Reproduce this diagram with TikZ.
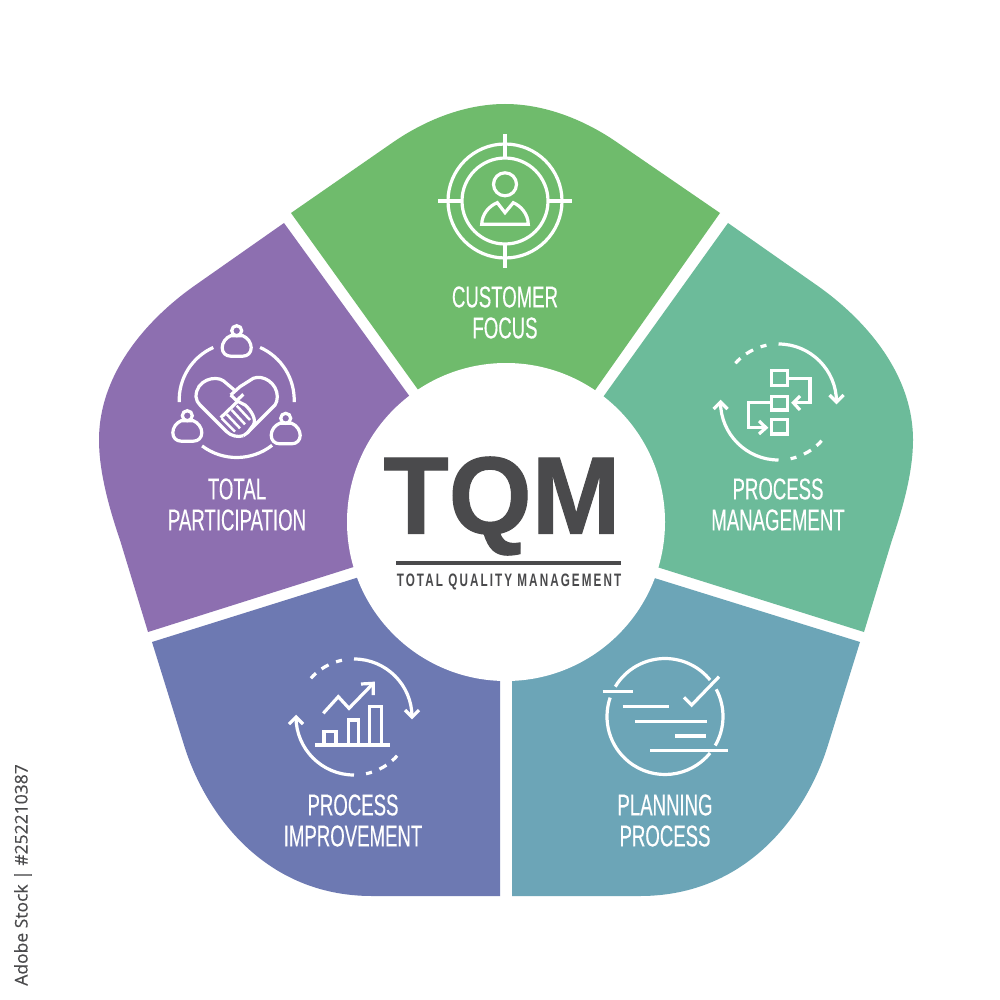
\documentclass[tikz,border=0pt]{standalone}
\usepackage{fontspec}
\setmainfont{Liberation Sans}
\newfontfamily\labfont[FakeStretch=0.62,FakeBold=0.3]{Liberation Sans}
\newfontfamily\subfont[FakeStretch=0.65,LetterSpace=11.5]{Liberation Sans Bold}
\newfontfamily\tqmfont[FakeStretch=0.97,FakeBold=1]{Liberation Sans Bold}
\newfontfamily\idfont[FakeBold=0.3]{Open Sans}
\definecolor{cgreen}{HTML}{6FBB6C}
\definecolor{cteal}{HTML}{6CBB9A}
\definecolor{cblue}{HTML}{6CA5B7}
\definecolor{cindigo}{HTML}{6D79B2}
\definecolor{cpurple}{HTML}{8D6FB0}
\definecolor{cdark}{HTML}{4A4A4C}
\tikzset{
 ico/.style={draw=white,line width=3.2pt,fill=none},
 lab/.style={text=white,align=center,font=\labfont\fontsize{30}{31}\selectfont,inner sep=0pt},
}
\newcommand{\cyc}[2]{%
 \begin{scope}[shift={(#1,#2)}]
 \draw[ico] (-90:58) arc[start angle=-90,end angle=0,radius=58];
 \draw[ico] (51,-7) -- (58,0) -- (65,-7);
 \draw[ico] (-102:58) arc[start angle=-102,end angle=-108,radius=58];
 \draw[ico] (-116:58) arc[start angle=-116,end angle=-124,radius=58];
 \draw[ico] (-131:58) arc[start angle=-131,end angle=-138,radius=58];
 \draw[ico] (90:58) arc[start angle=90,end angle=180,radius=58];
 \draw[ico] (-65,7) -- (-58,0) -- (-51,7);
 \draw[ico] (78:58) arc[start angle=78,end angle=72,radius=58];
 \draw[ico] (64:58) arc[start angle=64,end angle=56,radius=58];
 \draw[ico] (49:58) arc[start angle=49,end angle=42,radius=58];
 \end{scope}}
\newcommand{\person}[2]{%
 \begin{scope}[shift={(#1,#2)}]
 \draw[ico] (0,0) circle[radius=5];
 \draw[ico] (-6,5) .. controls (-11,7) and (-14.5,12) .. (-14.5,17) .. controls (-14.5,22) and (-11,25.5) .. (-6,25.5) -- (6,25.5) .. controls (11,25.5) and (14.5,22) .. (14.5,17) .. controls (14.5,12) and (11,7) .. (6,5) -- cycle;
 \end{scope}}
\begin{document}
\begin{tikzpicture}[x=1pt,y=1pt,yscale=-1]
\useasboundingbox (0,0) rectangle (1000,1000);
\fill[white] (0,0) rectangle (1000,1000);
% segments
\fill[cgreen] (291,213) -- (392,143) .. controls (425,120) and (465,104) .. (505,104) .. controls (545,104) and (585,120) .. (618,143) -- (720,213) -- (543,464) -- (470,462) -- cycle;
\fill[cteal] (728,223) -- (815,284) .. controls (860,315) and (913,370) .. (913,440) .. controls (913,470) and (904,505) .. (892,540) -- (864,632) -- (590,546) -- (555,464) -- cycle;
\fill[cblue] (860,642) -- (828,745) .. controls (808,810) and (750,896) .. (640,896) -- (512,896) -- (512,600) -- (590,558) -- cycle;
\fill[cindigo] (152,642) -- (184,745) .. controls (204,810) and (262,896) .. (372,896) -- (500,896) -- (500,600) -- (420,558) -- cycle;
\fill[cpurple] (284,223) -- (197,284) .. controls (152,315) and (99,370) .. (99,440) .. controls (99,470) and (108,505) .. (120,540) -- (148,632) -- (420,546) -- (455,459) -- cycle;
\fill[white] (506,522) circle[radius=159];
% customer icon
\draw[ico] (505,201) circle[radius=57];
\draw[ico] (505,201) circle[radius=43];
\draw[ico] (438,201) -- (462,201) (548,201) -- (572,201) (505,134) -- (505,158) (505,244) -- (505,268);
\draw[ico] (505,184.3) circle[radius=11.5];
\draw[ico,line join=miter] (481.7,224.3) .. controls (482,214) and (489,206) .. (497.3,202.7) -- (505,212.7) -- (513.3,202.7) .. controls (521,206) and (528,214) .. (528.3,224.3) -- cycle;
% process mgmt icon
\cyc{778.5}{402}
\draw[ico] (771.7,370.7) rectangle (787.3,385.7);
\draw[ico] (771.7,396.7) rectangle (787.3,410);
\draw[ico] (771.7,419.3) rectangle (787.3,434);
\draw[ico] (787.3,378.3) -- (810,378.3) -- (810,402.7) -- (793.3,402.7);
\draw[ico] (800,396) -- (793.3,402.7) -- (800,410);
\draw[ico] (771.7,402.7) -- (748.3,402.7) -- (748.3,427.7) -- (766,427.7);
\draw[ico] (759,421) -- (766,427.7) -- (759,434);
% planning icon
\draw[ico] (-149:58) ++(665,716.5) arc[start angle=-149,end angle=-39,radius=58];
\draw[ico] (-28:58) ++(665,716.5) arc[start angle=-28,end angle=30,radius=58];
\draw[ico] (39:58) ++(665,716.5) arc[start angle=39,end angle=199,radius=58];
\draw[ico] (602.7,691.7) -- (633.3,691.7) (622.7,706.7) -- (669,706.7) (635,721.3) -- (706.7,721.3) (675,736) -- (706,736) (650,750.7) -- (728.3,750.7);
\draw[ico] (684,697.3) -- (691.7,705) -- (719,676.7);
% improvement icon
\cyc{354}{717}
\draw[ico] (315,745) -- (390,745);
\draw[ico] (324,745) -- (324,731.7) -- (336,731.7) -- (336,745);
\draw[ico] (348.3,745) -- (348.3,720) -- (358.3,720) -- (358.3,745);
\draw[ico] (369.3,745) -- (369.3,706.7) -- (381.7,706.7) -- (381.7,745);
\draw[ico] (323.3,713.3) -- (338.3,696.7) -- (349,708.3) -- (373.3,683.3);
\draw[ico] (361,684) -- (373.3,683.3) -- (373.3,695);
% participation icon
\draw[ico] (-182:57.5) ++(236.7,400) arc[start angle=-182,end angle=-114,radius=57.5];
\draw[ico] (-66:57.5) ++(236.7,400) arc[start angle=-66,end angle=2,radius=57.5];
\draw[ico] (52:57.5) ++(236.7,400) arc[start angle=52,end angle=127,radius=57.5];
\person{236.7}{330.7}
\person{187.3}{415.7}
\person{285.7}{418.3}
% heart
\draw[ico] (234.3,390) -- (223.3,380.7) .. controls (215,375) and (196,380) .. (196,396.7) .. controls (196,400) and (198,403) .. (200,405) -- (226.7,431.7) .. controls (231,436) and (238,437.5) .. (243.3,435.7);
\draw[ico] (230.7,395) -- (240,386.7) -- (253.3,378.3) .. controls (263.3,374.3) and (277.3,383.3) .. (277.3,396.7) .. controls (277.3,400) and (276.5,403) .. (275,405) -- (250,430) .. controls (248,432) and (246,434.5) .. (243.3,435.7);
\draw[ico] (230.7,395) -- (236.7,400.7) -- (243.3,394.3);
\draw[ico] (236.7,400.7) -- (245,405) .. controls (251,410) and (257,420) .. (253.3,425) -- (247.3,433.3);
\draw[ico] (220.7,417.7) -- (236.7,402.3);
\draw[ico,line width=2.5pt] (221.7,418.3) -- (235,431.7) (226.7,414.3) -- (240,428.3) (231.7,410) -- (245,424.3) (236.7,405.7) -- (250,420);
% text
\node[lab] (a) at (505,297) {CUSTOMER};
\node[lab] (b) at (505,328) {FOCUS};
\node[lab] (c) at (778,489) {PROCESS};
\node[lab] (d) at (778,520) {MANAGEMENT};
\node[lab] (e) at (237,489) {TOTAL};
\node[lab] (f) at (237,520) {PARTICIPATION};
\node[lab] (g) at (353,805) {PROCESS};
\node[lab] (h) at (353,836) {IMPROVEMENT};
\node[lab] (i) at (665,805) {PLANNING};
\node[lab] (j) at (665,836) {PROCESS};
\node[inner sep=0pt,text=cdark,font=\tqmfont\fontsize{110}{110}\selectfont] (tqm) at (502,506) {TQM};
\draw[cdark,line width=4pt] (396,563) -- (621,563);
\node[inner sep=0pt,text=cdark,font=\subfont\fontsize{18}{18}\selectfont] (sub) at (509,582) {TOTAL QUALITY MANAGEMENT};
\node[inner sep=0pt,rotate=90,text=cdark,font=\idfont\fontsize{17.5}{18}\selectfont] (id) at (23,875) {Adobe Stock | \#252210387};
\end{tikzpicture}
\end{document}
